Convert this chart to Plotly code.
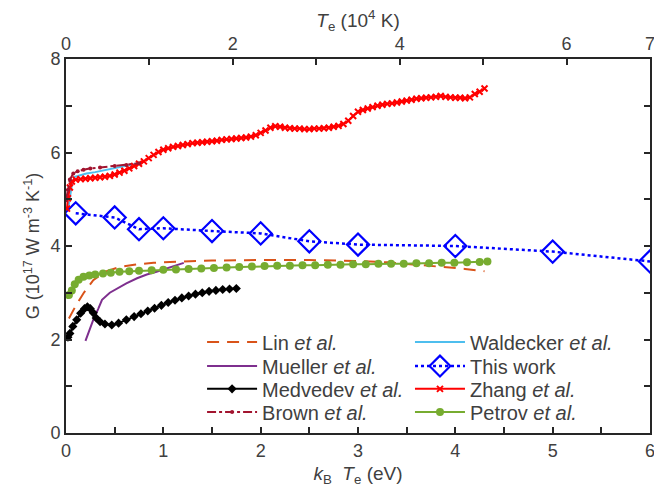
import plotly.graph_objects as go

# ---------------- data ----------------
lin_x = [0.03, 0.1, 0.18, 0.28, 0.4, 0.55, 0.7, 0.9, 1.2, 1.5, 2.0, 2.5, 3.0, 3.3, 3.6, 3.9, 4.1, 4.3]
lin_y = [2.45, 2.72, 2.99, 3.27, 3.45, 3.55, 3.60, 3.64, 3.67, 3.69, 3.70, 3.70, 3.68, 3.65, 3.60, 3.55, 3.51, 3.46]

wal_x = [0.02, 0.04, 0.06, 0.09, 0.15, 0.21, 0.3, 0.45, 0.6, 0.72]
wal_y = [4.77, 5.05, 5.30, 5.48, 5.52, 5.55, 5.58, 5.64, 5.70, 5.76]

mue_x = [0.2, 0.24, 0.28, 0.33, 0.37, 0.45, 0.52, 0.62, 0.73, 0.83, 0.93, 1.05, 1.21]
mue_y = [1.97, 2.2, 2.42, 2.65, 2.85, 3.0, 3.09, 3.2, 3.31, 3.39, 3.45, 3.53, 3.64]

tw_x = [0.1, 0.5, 0.75, 1.0, 1.5, 2.0, 2.5, 3.0, 4.0, 5.0, 6.0]
tw_y = [4.70, 4.61, 4.36, 4.38, 4.32, 4.27, 4.10, 4.03, 4.00, 3.88, 3.67]

med_x = [0.02, 0.04, 0.07, 0.11, 0.15, 0.19, 0.22, 0.25, 0.28, 0.31, 0.35, 0.40, 0.47, 0.54, 0.62, 0.70,
         0.77, 0.84, 0.91, 0.98, 1.05, 1.12, 1.19, 1.26, 1.33, 1.40, 1.47, 1.54, 1.61, 1.68, 1.75]
med_y = [2.05, 2.13, 2.28, 2.42, 2.56, 2.66, 2.70, 2.66, 2.57, 2.46, 2.38, 2.33, 2.31, 2.35, 2.42, 2.49,
         2.55, 2.61, 2.67, 2.73, 2.79, 2.84, 2.89, 2.93, 2.97, 3.00, 3.03, 3.05, 3.07, 3.08, 3.09]

zh_x = [0.01, 0.02, 0.04, 0.06, 0.10, 0.15, 0.20, 0.25, 0.30, 0.35, 0.40, 0.45, 0.50, 0.55, 0.60, 0.65,
        0.70, 0.75, 0.80, 0.85, 0.90, 0.95, 1.00, 1.05, 1.10, 1.15, 1.20, 1.25, 1.30, 1.35, 1.40, 1.45,
        1.50, 1.55, 1.60, 1.65, 1.70, 1.75, 1.80, 1.85, 1.90, 1.95, 2.00, 2.05, 2.10, 2.15, 2.20, 2.25,
        2.30, 2.35, 2.40, 2.45, 2.50, 2.55, 2.60, 2.65, 2.70, 2.75, 2.80, 2.85, 2.90, 2.95, 3.00, 3.05,
        3.10, 3.15, 3.20, 3.25, 3.30, 3.35, 3.40, 3.45, 3.50, 3.55, 3.60, 3.65, 3.70, 3.75, 3.80, 3.85,
        3.90, 3.95, 4.00, 4.05, 4.10, 4.15, 4.20, 4.25, 4.30]
zh_y = [4.80, 5.02, 5.25, 5.38, 5.42, 5.43, 5.44, 5.45, 5.46, 5.47, 5.48, 5.50, 5.53, 5.57, 5.61, 5.66,
        5.71, 5.76, 5.81, 5.88, 5.95, 6.01, 6.06, 6.09, 6.12, 6.14, 6.16, 6.18, 6.20, 6.21, 6.22, 6.23,
        6.24, 6.25, 6.27, 6.28, 6.29, 6.30, 6.31, 6.32, 6.34, 6.37, 6.42, 6.47, 6.53, 6.56, 6.55, 6.53,
        6.52, 6.51, 6.51, 6.50, 6.50, 6.51, 6.51, 6.52, 6.53, 6.55, 6.57, 6.61, 6.68, 6.78, 6.87, 6.91,
        6.94, 6.97, 7.00, 7.02, 7.04, 7.05, 7.07, 7.09, 7.11, 7.13, 7.15, 7.16, 7.17, 7.18, 7.19, 7.21,
        7.19, 7.18, 7.17, 7.17, 7.16, 7.18, 7.25, 7.30, 7.37]

br_x = [0.0, 0.02, 0.04, 0.075, 0.12, 0.18, 0.25, 0.35, 0.5, 0.62, 0.75]
br_y = [4.98, 5.2, 5.42, 5.55, 5.60, 5.63, 5.66, 5.68, 5.71, 5.73, 5.77]

pe_x = [0.03, 0.06, 0.09, 0.13, 0.18, 0.24, 0.30, 0.38, 0.46, 0.55, 0.65, 0.75, 0.88, 1.0, 1.13, 1.26,
        1.39, 1.52, 1.65, 1.78, 1.91, 2.04, 2.17, 2.30, 2.43, 2.56, 2.69, 2.82, 2.95, 3.08, 3.21, 3.34,
        3.47, 3.60, 3.73, 3.86, 3.99, 4.12, 4.25, 4.33]
pe_y = [2.95, 3.05, 3.18, 3.28, 3.34, 3.37, 3.39, 3.41, 3.43, 3.45, 3.46, 3.47, 3.48, 3.49, 3.50, 3.51,
        3.52, 3.53, 3.54, 3.55, 3.56, 3.57, 3.58, 3.58, 3.59, 3.59, 3.60, 3.60, 3.61, 3.61, 3.62, 3.62,
        3.62, 3.63, 3.63, 3.64, 3.64, 3.65, 3.66, 3.67]

x_ticks = [0, 0.5, 1, 1.5, 2, 2.5, 3, 3.5, 4, 4.5, 5, 5.5, 6]
x_labels = ["0", "", "1", "", "2", "", "3", "", "4", "", "5", "", "6"]
y_ticks = [0, 1, 2, 3, 4, 5, 6, 7, 8]
y_labels = ["0", "", "2", "", "4", "", "6", "", "8"]
top_ticks = [0, 1, 2, 3, 4, 5, 6, 7]
top_labels = ["0", "", "2", "", "4", "", "6", "7"]

FONT = "Liberation Sans, Arial, Helvetica, sans-serif"
TXT = "#404040"
FS = 18
LFS = 20

fig = go.Figure()

fig.add_trace(go.Scatter(x=lin_x, y=lin_y, mode="lines", name="Lin <i>et al.</i>", legend="legend",
                         line=dict(color="#D95319", width=2, dash="12px,8px")))
fig.add_trace(go.Scatter(x=wal_x, y=wal_y, mode="lines", name="Waldecker <i>et al.</i>", legend="legend2",
                         line=dict(color="#4DBEEE", width=2)))
fig.add_trace(go.Scatter(x=mue_x, y=mue_y, mode="lines", name="Mueller <i>et al.</i>", legend="legend3",
                         line=dict(color="#7E2F8E", width=2)))
fig.add_trace(go.Scatter(x=tw_x, y=tw_y, mode="lines+markers", name="This work", legend="legend4",
                         line=dict(color="#0000FF", width=2.5, dash="dot"),
                         marker=dict(symbol="diamond-open", size=17, color="#0000FF",
                                     line=dict(width=2.2, color="#0000FF"))))
fig.add_trace(go.Scatter(x=med_x, y=med_y, mode="lines+markers", name="Medvedev <i>et al.</i>",
                         legend="legend5",
                         line=dict(color="black", width=2),
                         marker=dict(symbol="diamond", size=7, color="black")))
fig.add_trace(go.Scatter(x=zh_x, y=zh_y, mode="lines+markers", name="Zhang <i>et al.</i>", legend="legend6",
                         line=dict(color="#FF0000", width=2),
                         marker=dict(symbol="x-thin-open", size=6, color="#FF0000",
                                     line=dict(width=2, color="#FF0000"))))
fig.add_trace(go.Scatter(x=br_x, y=br_y, mode="lines+markers", name="Brown <i>et al.</i>", legend="legend7",
                         line=dict(color="#A2142F", width=2, dash="dashdot"),
                         marker=dict(symbol="circle", size=4, color="#A2142F")))
fig.add_trace(go.Scatter(x=pe_x, y=pe_y, mode="lines+markers", name="Petrov <i>et al.</i>", legend="legend8",
                         line=dict(color="#77AC30", width=2),
                         marker=dict(symbol="circle", size=8, color="#77AC30")))
# invisible trace to activate the top axis
fig.add_trace(go.Scatter(x=[0, 7], y=[None, None], xaxis="x2", yaxis="y", mode="lines",
                         showlegend=False, hoverinfo="skip"))

axis_common = dict(showline=True, linecolor="#262626", linewidth=2, ticks="inside",
                   tickcolor="#262626", ticklen=6, tickwidth=1.5, showgrid=False, zeroline=False,
                   automargin=False, ticklabeloverflow="allow",
                   tickfont=dict(family=FONT, size=FS, color=TXT))

# legend placements (paper coords): two columns, four rows
col_x = [0.233, 0.589]
row_y = [0.243, 0.179, 0.118, 0.056]
legend_layout = {}
names = ["legend", "legend2", "legend3", "legend4", "legend5", "legend6", "legend7", "legend8"]
for i, nm in enumerate(names):
    legend_layout[nm] = dict(x=col_x[i % 2], y=row_y[i // 2], xanchor="left", yanchor="middle",
                             bgcolor="rgba(0,0,0,0)", borderwidth=0, itemwidth=50,
                             font=dict(family=FONT, size=LFS, color=TXT))

fig.update_layout(
    width=654, height=498,
    margin=dict(l=66, r=4, t=59, b=65),
    paper_bgcolor="white", plot_bgcolor="white",
    font=dict(family=FONT, size=FS, color=TXT),
    xaxis=dict(range=[0, 6], tickvals=x_ticks, ticktext=x_labels,
               title=dict(text="<i>k</i><sub>B</sub>  <i>T</i><sub>e</sub> (eV)", standoff=7,
                          font=dict(family=FONT, size=FS + 1, color=TXT)),
               **axis_common),
    xaxis2=dict(range=[0, 7], overlaying="x", side="top", anchor="y", tickvals=top_ticks,
                ticktext=top_labels,
                title=dict(text="<i>T</i><sub>e</sub> (10<sup>4</sup> K)", standoff=0,
                           font=dict(family=FONT, size=FS + 1, color=TXT)),
                **axis_common),
    yaxis=dict(range=[0, 8], tickvals=y_ticks, ticktext=y_labels, mirror="ticks",
               title=dict(text="G (10<sup>17</sup> W m<sup>-3</sup> K<sup>-1</sup>)", standoff=6,
                          font=dict(family=FONT, size=FS, color=TXT)),
               **axis_common),
    showlegend=True,
    **legend_layout,
)

# remove the browser's default page margin so the 654x498 figure fills the window exactly
fig.write_html("out.html", config={"displayModeBar": False},
               post_script="document.body.style.margin='0';document.body.style.overflow='hidden';")
